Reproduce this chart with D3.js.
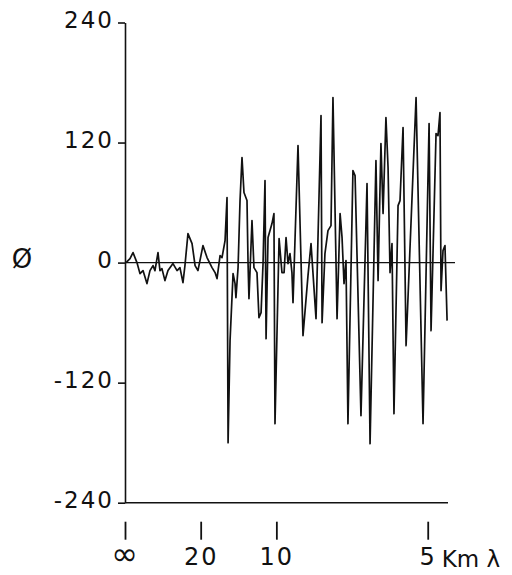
<!DOCTYPE html>
<html>
<head>
<meta charset="utf-8">
<script src="https://cdn.jsdelivr.net/npm/d3@7"></script>
<style>
  body { margin: 0; background: #fff; }
  svg text { font-family: "DejaVu Sans", sans-serif; fill: #111; }
</style>
</head>
<body>
<div id="chart"></div>
<script>
// spatial frequency (1/km) and phase (deg)
var freq = [0.0007, 0.0033, 0.0053, 0.0079, 0.0099, 0.0119, 0.0145, 0.0165, 0.0185, 0.0198,
  0.0218, 0.0231, 0.0244, 0.0264, 0.0284, 0.0317, 0.0344, 0.0363, 0.0383, 0.0396,
  0.0416, 0.0443, 0.0463, 0.0482, 0.0515, 0.0542, 0.0575, 0.0595, 0.0608, 0.0628,
  0.0641, 0.0661, 0.0674, 0.0681, 0.0694, 0.0714, 0.0727, 0.0733, 0.0747, 0.0760,
  0.0773, 0.0786, 0.0806, 0.0813, 0.0819, 0.0839, 0.0852, 0.0872, 0.0885, 0.0899,
  0.0912, 0.0925, 0.0932, 0.0945, 0.0971, 0.0984, 0.0991, 0.1018, 0.1037, 0.1051,
  0.1064, 0.1077, 0.1090, 0.1103, 0.1110, 0.1143, 0.1176, 0.1209, 0.1229, 0.1262,
  0.1295, 0.1302, 0.1321, 0.1341, 0.1361, 0.1374, 0.1401, 0.1421, 0.1434, 0.1447,
  0.1460, 0.1473, 0.1506, 0.1520, 0.1559, 0.1599, 0.1619, 0.1658, 0.1672, 0.1691,
  0.1705, 0.1724, 0.1738, 0.1751, 0.1764, 0.1777, 0.1804, 0.1817, 0.1837, 0.1857,
  0.1923, 0.1969, 0.2009, 0.2022, 0.2055, 0.2068, 0.2081, 0.2088, 0.2101, 0.2114,
  0.2128];
var phase = [0, 4, 10, 0, -11, -8, -21, -8, -3, -8,
  10, -8, -6, -18, -8, -1, -8, -5, -20, -3,
  29, 19, -3, -8, 17, 5, -5, -10, -16, 7,
  5, 22, 65, -180, -78, -11, -21, -35, -5, 62,
  105, 70, 62, -1, -36, 42, -5, -10, -55, -50,
  -1, 82, -76, 25, 39, 49, -161, 24, -10, -10,
  25, -1, 9, -10, -40, 117, -73, -13, 19, -56,
  147, -60, 9, 32, 37, 165, -56, 49, 25, -21,
  2, -161, 92, 87, -153, 79, -181, 102, -18, 119,
  49, 145, 95, -10, 19, -151, 57, 62, 135, -83,
  165, -161, 139, -68, 129, 127, 150, -28, 12, 17,
  -58];

var y_ticks = [-240, -120, 0, 120, 240];
var x_ticks = [0, 0.05, 0.1, 0.2];
var x_tick_labels = ["\u221E", "20", "10", "5"];

var width = 512, height = 575;

var svg = d3.select("#chart")
    .append("svg")
    .attr("width", width)
    .attr("height", height);

var x = d3.scaleLinear()
    .domain([0, 0.2134])
    .range([125, 448]);

var y = d3.scaleLinear()
    .domain([-240, 240])
    .range([502.7, 22.5]);

// y axis
var y_axis = svg.append("g")
    .attr("transform", `translate(${x(0)}, 0)`)
    .call(d3.axisLeft(y).tickValues(y_ticks).tickSize(7).tickSizeOuter(0).tickPadding(4)
        .tickFormat(function(d) { return String(d); }));
y_axis.select(".domain").attr("stroke", "#111").attr("stroke-width", 1.6);
y_axis.selectAll(".tick line").attr("stroke", "#111").attr("stroke-width", 1.6);
y_axis.selectAll(".tick text")
    .attr("dy", "0.2em")
    .style("font-size", "23px")
    .style("letter-spacing", "2px")
    .style("fill", "#111");

// x baseline
svg.append("line")
    .attr("x1", x.range()[0]).attr("x2", x.range()[1])
    .attr("y1", y(-240)).attr("y2", y(-240))
    .attr("stroke", "#111")
    .attr("stroke-width", 1.6);

// x ticks sit below the baseline, detached
var x_axis = svg.append("g")
    .attr("transform", `translate(0, ${y(-240) + 19})`)
    .call(d3.axisBottom(x).tickValues(x_ticks).tickSize(18).tickPadding(8)
        .tickFormat(function(d, i) { return x_tick_labels[i]; }));
x_axis.select(".domain").remove();
x_axis.selectAll(".tick line").attr("stroke", "#111").attr("stroke-width", 1.8);
x_axis.selectAll(".tick text")
    .style("font-size", function(d, i) { return i == 0 ? "32px" : "24px"; })
    .attr("dy", function(d, i) { return i == 0 ? "0.55em" : "0.71em"; })
    .style("letter-spacing", "2px")
    .style("fill", "#111");

svg.append("text")
    .attr("x", x(0.2) + 14)
    .attr("y", 567)
    .style("font-size", "23px")
    .text("Km \u03BB");

// y label
svg.append("text")
    .attr("x", 22)
    .attr("y", y(0) + 5)
    .style("font-size", "26px")
    .style("text-anchor", "middle")
    .text("\u00D8");

// zero reference line
svg.append("line")
    .attr("x1", x(0)).attr("x2", 455)
    .attr("y1", y(0)).attr("y2", y(0))
    .attr("stroke", "#111")
    .attr("stroke-width", 1.3);

var line = d3.line()
    .x(function(d, i) { return x(freq[i]); })
    .y(function(d) { return y(d); });

svg.append("path")
    .datum(phase)
    .attr("d", line)
    .attr("fill", "none")
    .attr("stroke", "#111")
    .attr("stroke-width", 1.7)
    .attr("stroke-linejoin", "round");
</script>
</body>
</html>
